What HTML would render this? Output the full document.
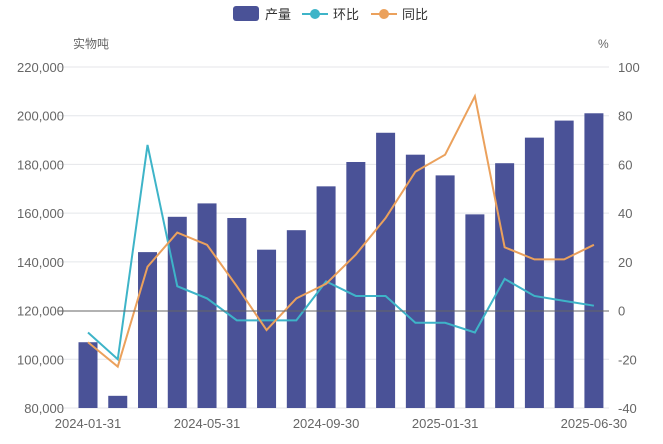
<!DOCTYPE html>
<html><head><meta charset="utf-8"><style>
body{margin:0;background:#fff;}
svg{display:block;font-family:"Liberation Sans","Noto Sans CJK SC",sans-serif;}
</style></head><body>
<svg width="663" height="444" viewBox="0 0 663 444">
<g id="grid" stroke="#e4e6ea" stroke-width="1"></g>
<g id="bars" fill="#4a5297"></g>
<g id="lines"></g>
<g id="labels" font-size="13" fill="#666"></g>
<g font-size="12" fill="#555">
<rect x="233" y="6" width="26" height="15" rx="3" fill="#4a5297"/>
<text x="265" y="19" font-size="13" fill="#333">产量</text>
<line x1="302" y1="14" x2="328" y2="14" stroke="#3eb4c8" stroke-width="2"/><circle cx="315" cy="14" r="5" fill="#3eb4c8"/>
<text x="333" y="19" font-size="13" fill="#333">环比</text>
<line x1="371" y1="14" x2="397" y2="14" stroke="#eba15c" stroke-width="2"/><circle cx="384" cy="14" r="5" fill="#eba15c"/>
<text x="402" y="19" font-size="13" fill="#333">同比</text>
<text x="73" y="48" font-size="12" fill="#666">实物吨</text>
<text x="598" y="48" font-size="12" fill="#666">%</text>
</g>
<line x1="58" y1="311" x2="609" y2="311" stroke="#666" stroke-width="1"/>
</svg>
<script>
const ns="http://www.w3.org/2000/svg";
function el(p,t,a,txt){const e=document.createElementNS(ns,t);for(const k in a)e.setAttribute(k,a[k]);if(txt!==undefined)e.textContent=txt;document.getElementById(p).appendChild(e);return e;}
const yL=v=>67+(220000-v)*341/140000, yR=v=>67+(100-v)*341/140;
for(let i=0;i<=7;i++){const v=220000-i*20000,y=yL(v);
 if(v!==120000)el("grid","line",{x1:58,x2:609,y1:y,y2:y});
 el("labels","text",{x:64,y:y+5,"text-anchor":"end"},v.toLocaleString("en-US"));
 el("labels","text",{x:618,y:y+5},String(100-i*20));}
const bars=[107000,85000,144000,158500,164000,158000,145000,153000,171000,181000,193000,184000,175500,159500,180500,191000,198000,201000];
const hb=[-9,-20,68,10,5,-4,-4,-4,12,6,6,-5,-5,-9,13,6,4,2];
const tb=[-13,-23,18,32,27,10,-8,5,11,23,38,57,64,88,26,21,21,27];
const cx=i=>88+i*29.76;
bars.forEach((v,i)=>{const y=yL(v);el("bars","rect",{x:cx(i)-9.5,y:y,width:19,height:408-y});});
const pts=a=>a.map((v,i)=>cx(i)+","+yR(v)).join(" ");
el("lines","polyline",{points:pts(hb),fill:"none",stroke:"#3eb4c8","stroke-width":2});
el("lines","polyline",{points:pts(tb),fill:"none",stroke:"#eba15c","stroke-width":2});
[["2024-01-31",0],["2024-05-31",4],["2024-09-30",8],["2025-01-31",12],["2025-06-30",17]].forEach(([t,i])=>el("labels","text",{x:cx(i),y:428,"text-anchor":"middle"},t));
</script>
</body></html>
